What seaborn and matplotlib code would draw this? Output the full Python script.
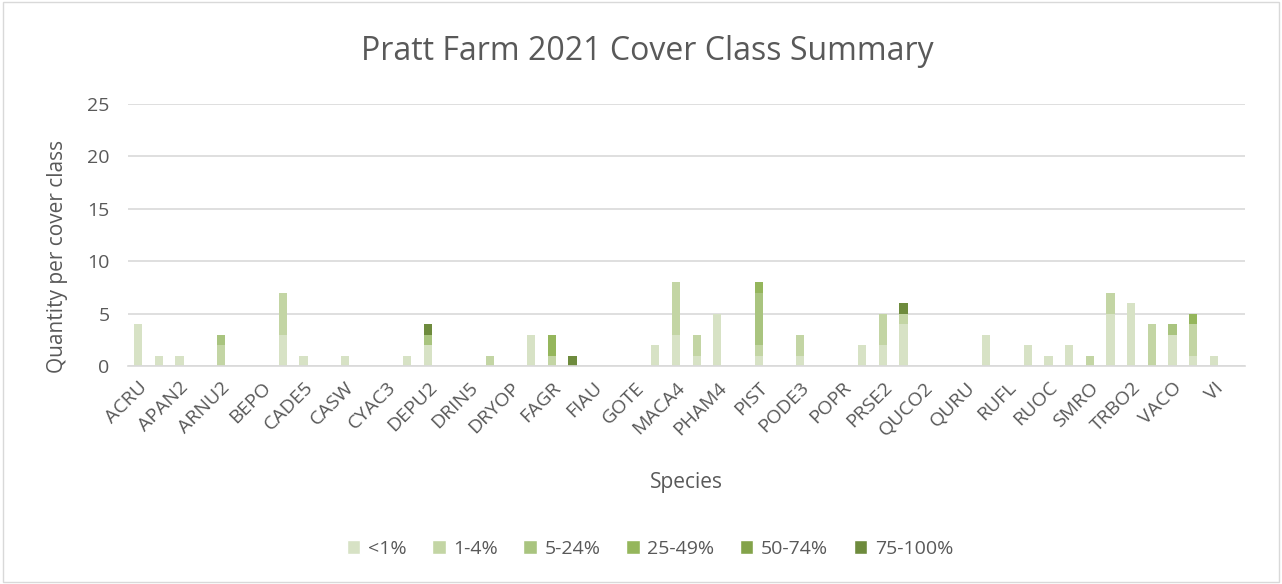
import numpy as np
import pandas as pd
import matplotlib
matplotlib.use("Agg")
import matplotlib.pyplot as plt
from matplotlib.patches import Patch, Rectangle
import seaborn as sns

# ---------------- data ----------------
# only every other species code is printed on the chart; the hidden ones are placeholders
species = ["ACRU", "ACSA3", "APAN2", "ARDE", "ARNU2", "ATFI", "BEPO", "CACA4", "CADE5", "CAPE",
           "CASW", "CICA", "CYAC3", "DACA6", "DEPU2", "DICA", "DRIN5", "DRMA", "DRYOP", "EUMA",
           "FAGR", "FEOB", "FIAU", "GAPR", "GOTE", "LYCL", "MACA4", "ONSE", "PHAM4", "PIAB",
           "PIST", "PLMA2", "PODE3", "POAC5", "POPR", "PRPE", "PRSE2", "PTAQ", "QUCO2", "QUPR2",
           "QURU", "RHTY", "RUFL", "RUID", "RUOC", "SARA2", "SMRO", "SOLID", "TRBO2", "TSCA",
           "VACO", "VERO", "VI", "VIRI"]

lt1 = [4, 1, 1, 0, 0, 0, 0, 3, 1, 0,
       1, 0, 0, 1, 2, 0, 0, 0, 0, 3,
       0, 0, 0, 0, 0, 2, 3, 1, 5, 0,
       1, 0, 1, 0, 0, 2, 2, 4, 0, 0,
       0, 3, 0, 2, 1, 2, 0, 5, 6, 0,
       3, 1, 1, 0]
p1_4 = [0, 0, 0, 0, 2, 0, 0, 4, 0, 0,
        0, 0, 0, 0, 0, 0, 0, 1, 0, 0,
        1, 0, 0, 0, 0, 0, 5, 2, 0, 0,
        1, 0, 2, 0, 0, 0, 3, 1, 0, 0,
        0, 0, 0, 0, 0, 0, 1, 2, 0, 4,
        0, 3, 0, 0]
p5_24 = [0, 0, 0, 0, 1, 0, 0, 0, 0, 0,
         0, 0, 0, 0, 1, 0, 0, 0, 0, 0,
         0, 0, 0, 0, 0, 0, 0, 0, 0, 0,
         5, 0, 0, 0, 0, 0, 0, 0, 0, 0,
         0, 0, 0, 0, 0, 0, 0, 0, 0, 0,
         1, 0, 0, 0]
p25_49 = [0, 0, 0, 0, 0, 0, 0, 0, 0, 0,
          0, 0, 0, 0, 0, 0, 0, 0, 0, 0,
          2, 0, 0, 0, 0, 0, 0, 0, 0, 0,
          1, 0, 0, 0, 0, 0, 0, 0, 0, 0,
          0, 0, 0, 0, 0, 0, 0, 0, 0, 0,
          0, 1, 0, 0]
p50_74 = [0] * 54
p75_100 = [0, 0, 0, 0, 0, 0, 0, 0, 0, 0,
           0, 0, 0, 0, 1, 0, 0, 0, 0, 0,
           0, 1, 0, 0, 0, 0, 0, 0, 0, 0,
           0, 0, 0, 0, 0, 0, 0, 1, 0, 0,
           0, 0, 0, 0, 0, 0, 0, 0, 0, 0,
           0, 0, 0, 0]

classes = ["<1%", "1-4%", "5-24%", "25-49%", "50-74%", "75-100%"]
colors = ["#d7e2c5", "#c3d5a4", "#a9c47f", "#95b65c", "#83a34a", "#6e8b3d"]

df = pd.DataFrame({"Species": species, "<1%": lt1, "1-4%": p1_4, "5-24%": p5_24,
                   "25-49%": p25_49, "50-74%": p50_74, "75-100%": p75_100})
cum = df[classes].cumsum(axis=1)

# ---------------- plot ----------------
sns.set_theme(style="white")
plt.rcParams["font.family"] = ["Open Sans", "DejaVu Sans"]

fig = plt.figure(figsize=(12.82, 5.84), dpi=100)
ax = fig.add_axes([0.0996, 0.3733, 0.8715, 0.4486])

# stacked bars: draw the cumulative totals from the top class down
for cls, col in reversed(list(zip(classes, colors))):
    sns.barplot(x=df["Species"], y=cum[cls], order=species, color=col,
                width=0.4, saturation=1, errorbar=None, ax=ax, linewidth=0)

ax.set_ylim(0, 25)
ax.set_xlim(-0.5, len(species) - 0.5)
ax.set_yticks([0, 5, 10, 15, 20, 25])
ax.yaxis.grid(True, color="#d9d9d9", linewidth=1.2)
ax.set_axisbelow(True)
for s in ["top", "right", "left"]:
    ax.spines[s].set_visible(False)
ax.spines["bottom"].set_color("#d9d9d9")
ax.spines["bottom"].set_linewidth(1.2)

# labels on every other category, tick marks between categories
ax.set_xticks(range(0, len(species), 2))
ax.set_xticklabels(species[::2], rotation=45, ha="right", rotation_mode="anchor")
ax.set_xticks(np.arange(-0.5, len(species), 1), minor=True)
ax.tick_params(axis="x", which="major", length=0, pad=9, labelsize=14, labelcolor="#595959")
ax.tick_params(axis="x", which="minor", length=5, width=1.2, color="#d9d9d9", direction="out")
ax.tick_params(axis="y", length=0, pad=13, labelsize=14, labelcolor="#595959")

ax.set_xlabel("Species", fontsize=15, color="#595959")
ax.xaxis.set_label_coords(0.5, -0.405)
ax.set_ylabel("Quantity per cover class", fontsize=15, color="#595959")
ax.yaxis.set_label_coords(-0.053, 0.42)
fig.suptitle("Pratt Farm 2021 Cover Class Summary", fontsize=23, color="#595959",
             y=0.912, x=0.505, va="center")

handles = [Patch(facecolor=c, label=l) for l, c in zip(classes, colors)]
fig.legend(handles=handles, loc="center", bbox_to_anchor=(0.507, 0.06), ncol=6,
           frameon=False, fontsize=14, handlelength=0.7, handleheight=0.7,
           handletextpad=0.4, columnspacing=1.3, labelcolor="#595959")

fig.patches.append(Rectangle((0.002, 0.003), 0.996, 0.994, transform=fig.transFigure,
                             fill=False, edgecolor="#d9d9d9", linewidth=1))

fig.savefig("out.png", dpi=100)
